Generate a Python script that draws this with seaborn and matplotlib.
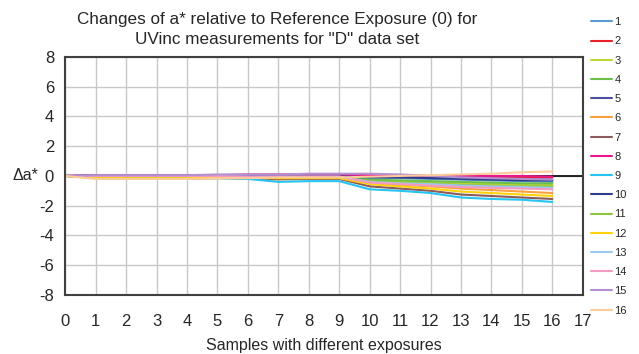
import matplotlib
matplotlib.use("Agg")
import matplotlib.pyplot as plt
import pandas as pd
import seaborn as sns

samples = list(range(17))

s1 = [0, -0.05, -0.05, -0.05, -0.05, 0, 0, 0, 0, 0, -0.1, -0.15, -0.2, -0.25, -0.3, -0.35, -0.4]
s2 = [0, 0, 0, 0, 0, 0, 0, 0, 0, 0, -0.05, -0.05, -0.05, -0.05, -0.1, -0.1, -0.1]
s3 = [0, -0.05, -0.05, -0.05, -0.05, -0.05, -0.1, -0.1, -0.1, -0.1, -0.3, -0.4, -0.45, -0.5, -0.55, -0.6, -0.6]
s4 = [0, -0.05, -0.05, -0.05, -0.05, 0, -0.05, -0.05, -0.05, -0.05, -0.25, -0.3, -0.35, -0.4, -0.45, -0.5, -0.5]
s5 = [0, 0.05, 0.05, 0.05, 0.05, 0.05, 0.05, 0.05, 0.05, 0.05, 0, -0.05, -0.1, -0.15, -0.2, -0.2, -0.25]
s6 = [0, -0.15, -0.2, -0.2, -0.2, -0.15, -0.2, -0.25, -0.2, -0.2, -0.5, -0.6, -0.7, -0.85, -0.95, -1.05, -1.15]
s7 = [0, -0.1, -0.1, -0.1, -0.1, -0.1, -0.15, -0.2, -0.2, -0.2, -0.7, -0.85, -1.0, -1.25, -1.35, -1.45, -1.55]
s8 = [0, 0.05, 0.05, 0.05, 0.05, 0.05, 0.1, 0.1, 0.1, 0.1, 0.05, 0.05, 0, 0, 0, 0, -0.05]
s9 = [0, -0.1, -0.15, -0.15, -0.15, -0.15, -0.2, -0.4, -0.35, -0.35, -0.9, -1.0, -1.15, -1.45, -1.55, -1.6, -1.75]
s10 = [0, 0, 0, 0, 0, 0, 0, -0.05, -0.05, -0.05, -0.1, -0.1, -0.15, -0.2, -0.25, -0.3, -0.3]
s11 = [0, -0.05, -0.05, -0.05, -0.05, -0.05, -0.1, -0.1, -0.1, -0.1, -0.35, -0.45, -0.5, -0.6, -0.65, -0.7, -0.7]
s12 = [0, -0.1, -0.15, -0.15, -0.15, -0.1, -0.1, -0.15, -0.15, -0.15, -0.55, -0.7, -0.85, -1.05, -1.15, -1.25, -1.35]
s13 = [0, 0, 0, 0, 0, 0, -0.05, -0.05, -0.05, -0.05, -0.4, -0.5, -0.55, -0.65, -0.7, -0.75, -0.8]
s14 = [0, 0, 0, 0, 0, 0, -0.05, -0.05, -0.05, -0.05, -0.45, -0.55, -0.65, -0.75, -0.8, -0.85, -0.9]
s15 = [0, 0.05, 0.05, 0.05, 0.05, 0.1, 0.1, 0.1, 0.15, 0.15, 0.15, 0.1, 0, -0.1, -0.15, -0.2, -0.25]
s16 = [0, -0.2, -0.2, -0.2, -0.2, -0.15, -0.15, -0.1, -0.1, -0.1, -0.05, 0, 0.05, 0.1, 0.15, 0.25, 0.3]

series_names = [str(i) for i in range(1, 17)]
series = [s1, s2, s3, s4, s5, s6, s7, s8, s9, s10, s11, s12, s13, s14, s15, s16]
colors = ["#5B9BD5", "#E8202A", "#BFD730", "#6CC04A", "#4F4FA0", "#F7A040",
          "#8B5A5A", "#E8178A", "#27C4F3", "#2E3D8A", "#8DC63F", "#FDD20A",
          "#9CC8EE", "#F49AC1", "#B490D0", "#FBCB9A"]

rows = []
for name, vals in zip(series_names, series):
    for x, v in zip(samples, vals):
        rows.append({"sample": x, "da": v, "series": name})
df = pd.DataFrame(rows)

sns.set_style("white")
plt.rcParams["font.family"] = ["Liberation Sans", "DejaVu Sans"]
plt.rcParams["axes.unicode_minus"] = False

fig = plt.figure(figsize=(6.39, 3.54), dpi=100)
ax = fig.add_axes([0.102, 0.167, 0.81, 0.672])

ax.axhline(0, color="black", lw=1.2, zorder=1)
sns.lineplot(data=df, x="sample", y="da", hue="series", hue_order=series_names,
             palette=colors, lw=1.5, ax=ax, zorder=2)

ax.set_xlim(0, 17)
ax.set_ylim(-8, 8)
ax.set_xticks(range(0, 18))
ax.set_yticks(range(-8, 9, 2))
ax.grid(True, axis="x", color="#C8C8C8", lw=1)
ax.grid(True, axis="y", color="#C8C8C8", lw=1)
ax.set_axisbelow(True)
for sp in ax.spines.values():
    sp.set_color("#404040")
    sp.set_linewidth(1.5)
ax.tick_params(axis="x", length=0, pad=14, labelsize=12)
ax.tick_params(axis="y", length=0, pad=8, labelsize=12)

ax.set_xlabel("Samples with different exposures", fontsize=11.5, labelpad=6)
ax.set_ylabel("\u0394a*", fontsize=11.5, rotation=0, labelpad=10, va="center")
ax.set_title("Changes of a* relative to Reference Exposure (0) for\nUVinc measurements for \"D\" data set",
             fontsize=12.3, x=0.41, y=1.019, linespacing=1.45)

ax.legend(loc="upper left", bbox_to_anchor=(1.0, 1.2), frameon=False,
          fontsize=8, handlelength=1.9, labelspacing=0.83, handletextpad=0.25,
          borderaxespad=0.3)

fig.savefig("out.png", dpi=100)
